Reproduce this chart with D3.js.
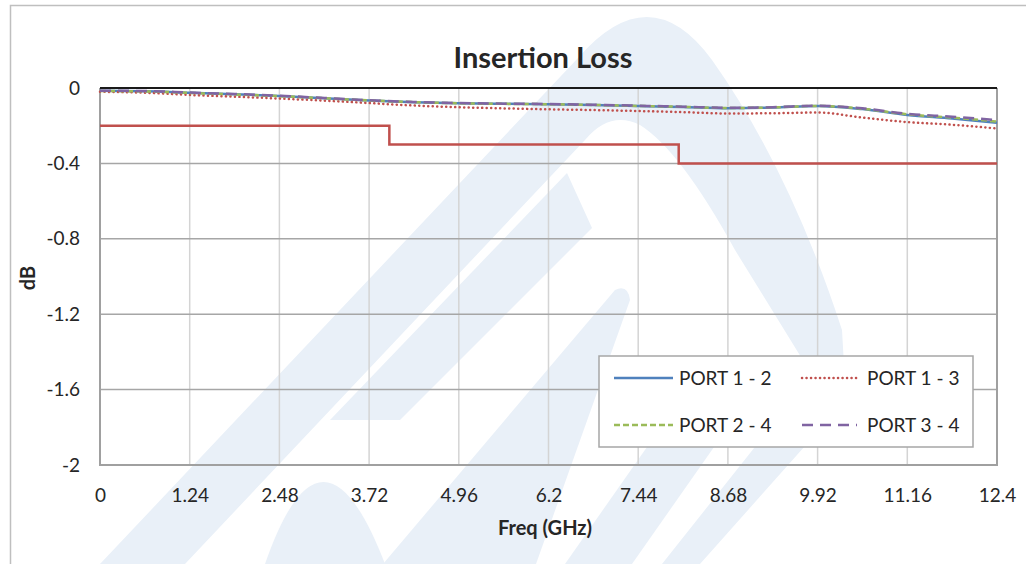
<!DOCTYPE html>
<html>
<head>
<meta charset="utf-8">
<script src="https://cdn.jsdelivr.net/npm/d3@7"></script>
<style>
  body { margin: 0; background: #fff; }
  svg text { font-family: Lato, "Open Sans", sans-serif; fill: #262626; }
</style>
</head>
<body>
<div id="chart"></div>
<script>
// Insertion Loss chart

var freq = [0, 0.62, 1.24, 1.86, 2.48, 3.1, 3.72, 4.34, 4.96, 5.58, 6.2, 6.82, 7.44, 8.06, 8.68, 9.3, 9.92, 10.54, 11.16, 11.78, 12.4];
var port12 = [-0.015, -0.017, -0.025, -0.033, -0.042, -0.054, -0.066, -0.075, -0.081, -0.084, -0.086, -0.090, -0.095, -0.101, -0.107, -0.104, -0.095, -0.112, -0.143, -0.162, -0.185];
var port13 = [-0.020, -0.025, -0.037, -0.046, -0.056, -0.067, -0.080, -0.093, -0.102, -0.108, -0.113, -0.117, -0.122, -0.128, -0.135, -0.134, -0.130, -0.157, -0.181, -0.195, -0.215];
var port24 = [-0.016, -0.018, -0.026, -0.034, -0.043, -0.054, -0.066, -0.075, -0.081, -0.084, -0.086, -0.090, -0.095, -0.100, -0.106, -0.103, -0.095, -0.110, -0.140, -0.157, -0.178];
var port34 = [-0.014, -0.016, -0.024, -0.032, -0.041, -0.053, -0.065, -0.074, -0.080, -0.083, -0.085, -0.089, -0.094, -0.099, -0.105, -0.102, -0.094, -0.108, -0.137, -0.152, -0.170];
var specFreq = [0, 4, 8, 12.4];
var specLoss = [-0.2, -0.3, -0.4, -0.4];
var xTicks = [0, 1.24, 2.48, 3.72, 4.96, 6.2, 7.44, 8.68, 9.92, 11.16, 12.4];
var yTicks = [0, -0.4, -0.8, -1.2, -1.6, -2];

var width = 1026, height = 564;
var margin = { top: 88, right: 29, bottom: 99, left: 100 };
var w = width - margin.left - margin.right,
    h = height - margin.top - margin.bottom;

var svg = d3.select("#chart").append("svg")
  .attr("width", width)
  .attr("height", height);

// faint logo watermark behind everything
var wm = svg.append("g").attr("fill", "#e9f0f8");
// big arch
wm.append("path").attr("d", "M100,564 L578,58 Q650,-25 712,60 Q790,170 842,330 L846,400 L700,564 L662,564 L812,375 L735,250 Q680,150 640,125 Q610,110 585,140 L185,564 Z");
// inner stroke
wm.append("path").attr("d", "M330,420 L567,173 L592,228 L400,420 Z");
// bottom hump
wm.append("path").attr("d", "M265,564 Q322,400 385,564 Z");
// right wedge
wm.append("path").attr("d", "M383,564 L615,290 Q628,284 630,300 L536,564 Z");
// lower band under the legend
wm.append("path").attr("d", "M565,564 L708,360 L775,360 L632,564 Z");

// outer chart frame
svg.append("rect")
  .attr("x", 10.5).attr("y", 5.5)
  .attr("width", 1030).attr("height", 600)
  .attr("fill", "none")
  .attr("stroke", "#bfbfbf")
  .attr("stroke-width", 1.5);

var g = svg.append("g")
  .attr("transform", "translate(" + margin.left + "," + margin.top + ")");

var x = d3.scaleLinear().domain([0, 12.4]).range([0, w]);
var y = d3.scaleLinear().domain([-2, 0]).range([h, 0]);

// vertical grid
g.append("g")
  .selectAll("line")
  .data(xTicks.slice(1, -1))
  .enter().append("line")
  .attr("x1", d => x(d)).attr("x2", d => x(d))
  .attr("y1", 0).attr("y2", h)
  .attr("stroke", "#d4d4d4")
  .attr("stroke-width", 1.5);

// horizontal grid
g.append("g")
  .selectAll("line")
  .data(yTicks.slice(1, -1))
  .enter().append("line")
  .attr("x1", 0).attr("x2", w)
  .attr("y1", d => y(d)).attr("y2", d => y(d))
  .attr("stroke", "#a6a6a6")
  .attr("stroke-width", 1.5);

// plot border (left, bottom, right) and zero line
g.append("path")
  .attr("d", "M0,0 V" + h + " H" + w + " V0")
  .attr("fill", "none")
  .attr("stroke", "#a0a0a0")
  .attr("stroke-width", 2);
g.append("line")
  .attr("x1", 0).attr("x2", w)
  .attr("y1", y(0)).attr("y2", y(0))
  .attr("stroke", "#1a1a1a")
  .attr("stroke-width", 2);

// axes (labels only)
var xAxis = d3.axisBottom(x).tickValues(xTicks).tickSize(0).tickPadding(24)
  .tickFormat(d => String(d));
var xg = g.append("g").attr("transform", "translate(0," + h + ")").call(xAxis);
xg.select(".domain").remove();
xg.selectAll("text").style("font-size", "19px").attr("fill", "#262626");

var yAxis = d3.axisLeft(y).tickValues(yTicks).tickSize(0).tickPadding(20)
  .tickFormat(d => String(d));
var yg = g.append("g").call(yAxis);
yg.select(".domain").remove();
yg.selectAll("text").style("font-size", "19px").attr("fill", "#262626");

// spec limit line
var specPts = specFreq.map((f, i) => [f, specLoss[i]]);
g.append("path")
  .datum(specPts)
  .attr("fill", "none")
  .attr("stroke", "#c0504d")
  .attr("stroke-width", 2.5)
  .attr("d", d3.line().x(d => x(d[0])).y(d => y(d[1])).curve(d3.curveStepAfter));

var series = [
  { name: "PORT 1 - 2", values: port12, color: "#4f81bd", dash: null, cap: "butt" },
  { name: "PORT 1 - 3", values: port13, color: "#c0504d", dash: "0.1 4.4", cap: "round" },
  { name: "PORT 2 - 4", values: port24, color: "#9bbb59", dash: "6 3", cap: "butt" },
  { name: "PORT 3 - 4", values: port34, color: "#8064a2", dash: "11 7", cap: "butt" }
];

var line = d3.line()
  .x(d => x(d[0]))
  .y(d => y(d[1]))
  .curve(d3.curveMonotoneX);

series.forEach(function(s) {
  g.append("path")
    .datum(freq.map((f, i) => [f, s.values[i]]))
    .attr("fill", "none")
    .attr("stroke", s.color)
    .attr("stroke-width", 2.5)
    .attr("stroke-linecap", s.cap)
    .attr("stroke-dasharray", s.dash)
    .attr("d", line);
});

// title and axis titles
svg.append("text")
  .attr("x", 543).attr("y", 68)
  .attr("text-anchor", "middle")
  .style("font-size", "29px").style("font-weight", "bold")
  .text("Insertion Loss");
svg.append("text")
  .attr("x", 545).attr("y", 535)
  .attr("text-anchor", "middle")
  .style("font-size", "20px").style("font-weight", "bold")
  .text("Freq (GHz)");
svg.append("text")
  .attr("transform", "translate(35,278) rotate(-90)")
  .attr("text-anchor", "middle")
  .style("font-size", "20px").style("font-weight", "bold")
  .text("dB");

// legend
var lg = svg.append("g").attr("transform", "translate(599,356)");
lg.append("rect")
  .attr("width", 374).attr("height", 91)
  .attr("fill", "#fff")
  .attr("stroke", "#a6a6a6")
  .attr("stroke-width", 1.5);

var item = lg.selectAll(".legend")
  .data(series).enter()
  .append("g").attr("class", "legend")
  .attr("transform", (d, i) => "translate(" + (15 + (i % 2) * 188) + "," + (22 + Math.floor(i / 2) * 47) + ")");
item.append("line")
  .attr("x1", 0).attr("x2", (d, i) => i % 2 ? 55 : 59)
  .attr("y1", 0).attr("y2", 0)
  .attr("stroke", d => d.color)
  .attr("stroke-width", 2.5)
  .attr("stroke-linecap", d => d.cap)
  .attr("stroke-dasharray", d => d.dash);
item.append("text")
  .attr("x", 65)
  .attr("y", 0).attr("dy", "0.35em")
  .style("font-size", "19px")
  .text(d => d.name);
</script>
</body>
</html>
